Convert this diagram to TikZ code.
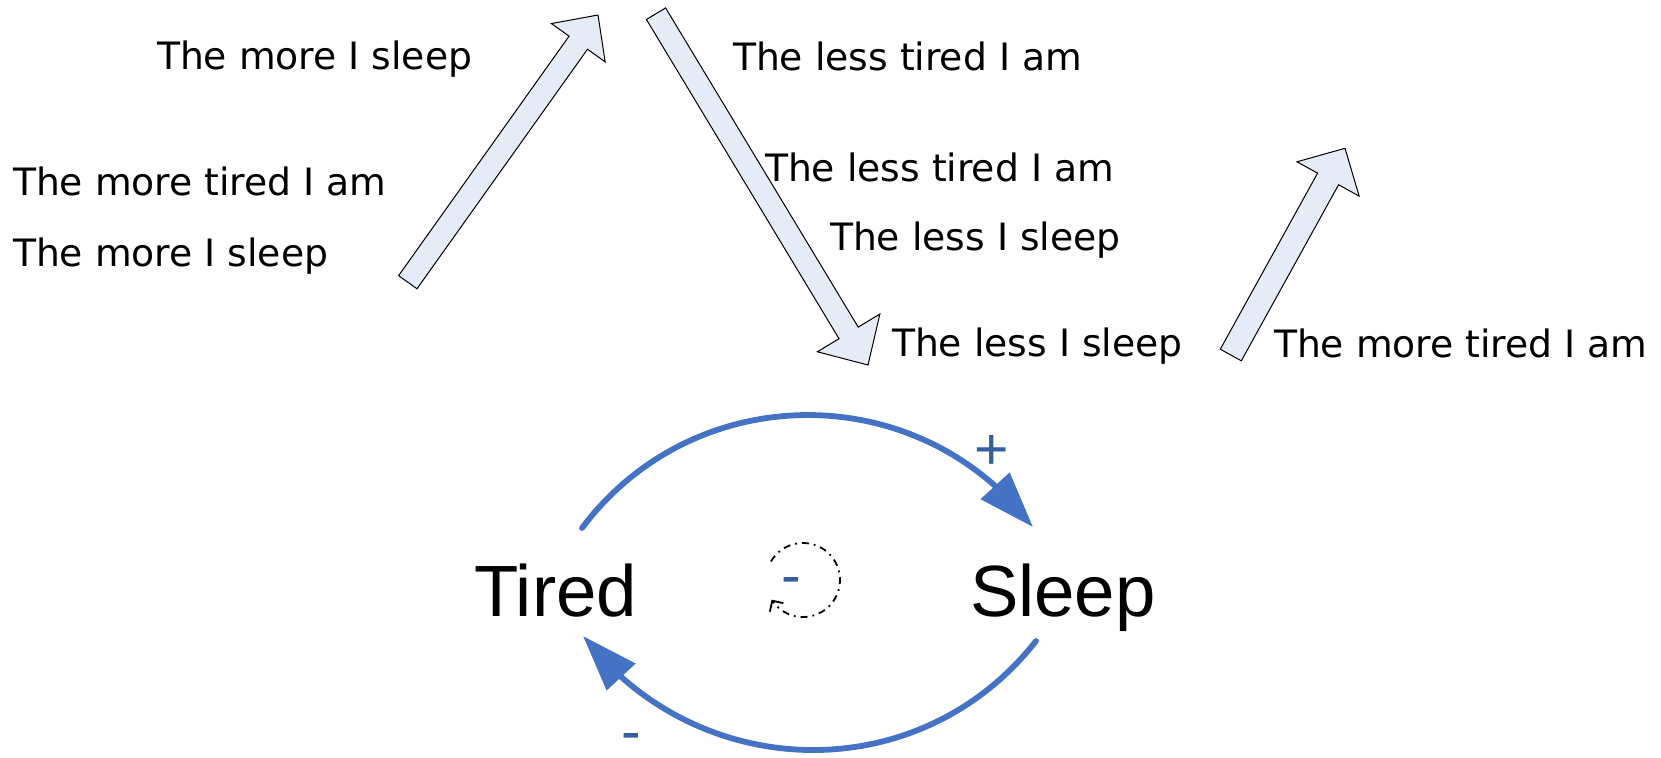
\documentclass[tikz,border=0pt]{standalone}
\usepackage{fontspec}
\usetikzlibrary{calc,arrows.meta,bending}
\newfontfamily\vfont{DejaVu Sans}
\newfontfamily\afont{Liberation Sans}
\definecolor{arcblue}{RGB}{68,114,196}
\definecolor{signblue}{RGB}{52,94,160}
\definecolor{blockfill}{RGB}{230,236,247}
\tikzset{
  txt/.style={font=\vfont\fontsize{18.85}{22}\selectfont, anchor=base west, inner sep=0pt, outer sep=0pt},
  big/.style={font=\afont\fontsize{36.3}{40}\selectfont, anchor=base west, inner sep=0pt, outer sep=0pt},
  sign/.style={font=\afont\fontsize{29.5}{32}\selectfont, text=signblue, anchor=base, inner sep=0pt},
  blockarrow/.style={draw=black, line width=0.5pt, fill=blockfill, line join=miter},
  link/.style={draw=arcblue, line width=2.9pt, line cap=round, -{Triangle[length=28pt,width=19pt,flex]}},
  loopline/.style={draw=black, line width=0.9pt, dash pattern=on 3.5pt off 2.5pt on 0.9pt off 2.5pt, -{Straight Barb[length=4pt,width=8pt]}}
}
% #1 tail, #2 tip, #3 half shaft width, #4 half head width, #5 head length
\newcommand{\blockarr}[5]{%
  \coordinate (#1-base) at ($(#2)!#5!(#1)$);
  \path[blockarrow] ($(#1)!#3!90:(#2)$) -- ($(#1-base)!#3!90:(#2)$) -- ($(#1-base)!#4!90:(#2)$) -- (#2)
    -- ($(#1-base)!#4!-90:(#2)$) -- ($(#1-base)!#3!-90:(#2)$) -- ($(#1)!#3!-90:(#2)$) -- cycle;
}
\begin{document}
\begin{tikzpicture}[x=0.5pt,y=0.5pt]
\useasboundingbox (0,0) rectangle (1661,-757);
% texts
\node[txt] (t1) at (157,-69) {The more I sleep};
\node[txt] (t2) at (13,-195.5) {The more tired I am};
\node[txt] (t3) at (13,-266) {The more I sleep};
\node[txt] (t4) at (733,-70.5) {The less tired I am};
\node[txt] (t5) at (765,-181.5) {The less tired I am};
\node[txt] (t6) at (830,-250.7) {The less I sleep};
\node[txt] (t7) at (892,-356.7) {The less I sleep};
\node[txt] (t8) at (1274,-357.3) {The more tired I am};
% block arrows
\coordinate (a1t) at (407.8,-282.2); \coordinate (a1p) at (598,-15);
\blockarr{a1t}{a1p}{5.65pt}{16.5pt}{17pt}
\coordinate (a2t) at (656,-13.7); \coordinate (a2p) at (868,-365);
\blockarr{a2t}{a2p}{5.6pt}{18.25pt}{18.75pt}
\coordinate (a3t) at (1230.8,-355); \coordinate (a3p) at (1345,-148.3);
\blockarr{a3t}{a3p}{6pt}{17.75pt}{17.5pt}
% causal loop
\node[big] (tired) at (474.3,-616.5) {Tired};
\node[big] (sleep) at (970,-616) {Sleep};
\coordinate (s1) at (582,-528); \coordinate (e1) at (1033,-527);
\coordinate (s2) at (1036,-641); \coordinate (e2) at (583,-636);
\draw[link] (s1) .. controls (694.7,-377.8) and (919.6,-377.3) .. (e1);
\draw[link] (s2) .. controls (919.8,-789.3) and (698.3,-785) .. (e2);
\node[sign] (plus) at (992,-469) {+};
\node[sign] (minusb) at (631.8,-751) {-};
\node[sign] (minusc) at (791.7,-595) {-};
\coordinate (loopc) at (803,-580);
\draw[loopline] (loopc) ++(150:18.5pt) arc[start angle=150, end angle=-148, radius=18.5pt];
\end{tikzpicture}
\end{document}
